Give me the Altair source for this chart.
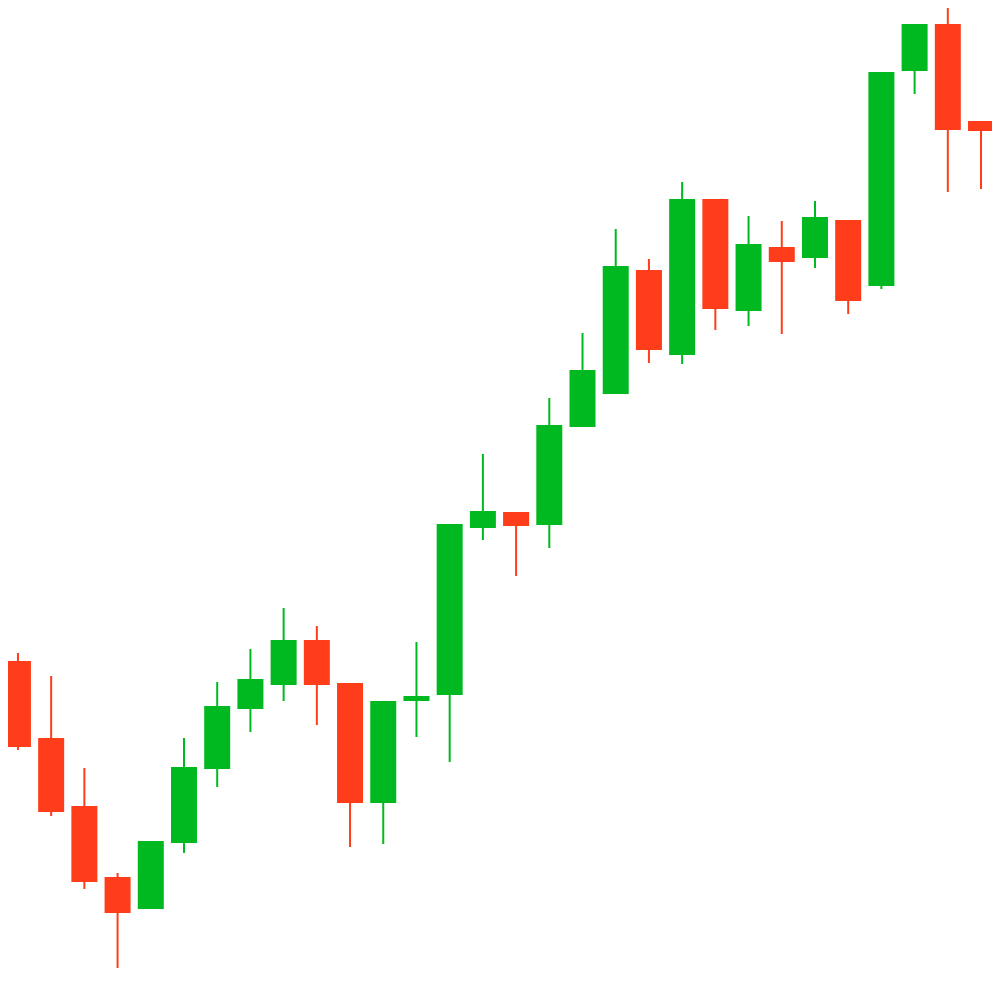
import altair as alt
import pandas as pd

# OHLC values (arbitrary price units)
opens  = [32.0, 24.3, 17.5, 10.4, 7.2, 13.8, 21.2, 27.2, 29.6, 34.1,
          29.8, 17.8, 28.0, 28.6, 45.3, 46.9, 45.6, 55.4, 58.7, 71.1,
          62.6, 78.2, 67.0, 73.4, 72.3, 76.1, 69.5, 91.0, 95.7, 86.0]
highs  = [32.8, 30.5, 21.3, 10.8, 14.0, 24.3, 29.9, 33.2, 37.3, 35.5,
          29.8, 28.0, 33.9, 45.7, 52.7, 46.9, 58.3, 64.8, 75.2, 72.2,
          79.9, 78.2, 76.5, 76.0, 78.0, 76.1, 90.9, 95.7, 98.5, 86.0]
lows   = [23.1, 16.5, 9.2, 0.0, 7.2, 12.8, 19.4, 24.9, 28.0, 25.6,
          13.4, 13.7, 24.4, 21.9, 44.1, 40.5, 43.3, 55.4, 58.7, 61.8,
          61.7, 65.1, 65.5, 64.7, 71.3, 66.7, 69.2, 88.7, 78.9, 79.2]
closes = [23.4, 16.9, 9.9, 6.8, 14.0, 21.4, 27.5, 30.2, 34.1, 29.6,
          17.8, 28.0, 28.5, 45.7, 47.0, 45.5, 55.6, 61.1, 71.5, 63.1,
          78.2, 67.2, 73.7, 71.9, 76.4, 68.0, 90.9, 95.7, 85.1, 85.0]

df = pd.DataFrame({
    "i": list(range(len(opens))),
    "open": opens, "high": highs, "low": lows, "close": closes,
})
df["dir"] = ["up" if c >= o else "down" for o, c in zip(opens, closes)]

xs = alt.Scale(domain=[-0.149, 29.180], nice=False, zero=False)
ys = alt.Scale(domain=[1.3, 97.3], nice=False, zero=False)
col = alt.Color("dir:N", scale=alt.Scale(domain=["up", "down"],
                                         range=["#00B81F", "#FF3D1B"]),
                legend=None)

base = alt.Chart(df)

wicks = base.mark_rule(strokeWidth=2, clip=True).encode(
    x=alt.X("i:Q", scale=xs, axis=None),
    y=alt.Y("low:Q", scale=ys, axis=None),
    y2="high:Q",
    color=col,
)

bodies = base.mark_bar(size=26, clip=True).encode(
    x=alt.X("i:Q", scale=xs, axis=None),
    y=alt.Y("open:Q", scale=ys, axis=None),
    y2="close:Q",
    color=col,
)

chart = (wicks + bodies).properties(
    width=984, height=960, padding=0
).configure(background="white", view=alt.ViewConfig(stroke=None))

chart.save("out.html", embed_options={"renderer": "svg", "actions": False})
